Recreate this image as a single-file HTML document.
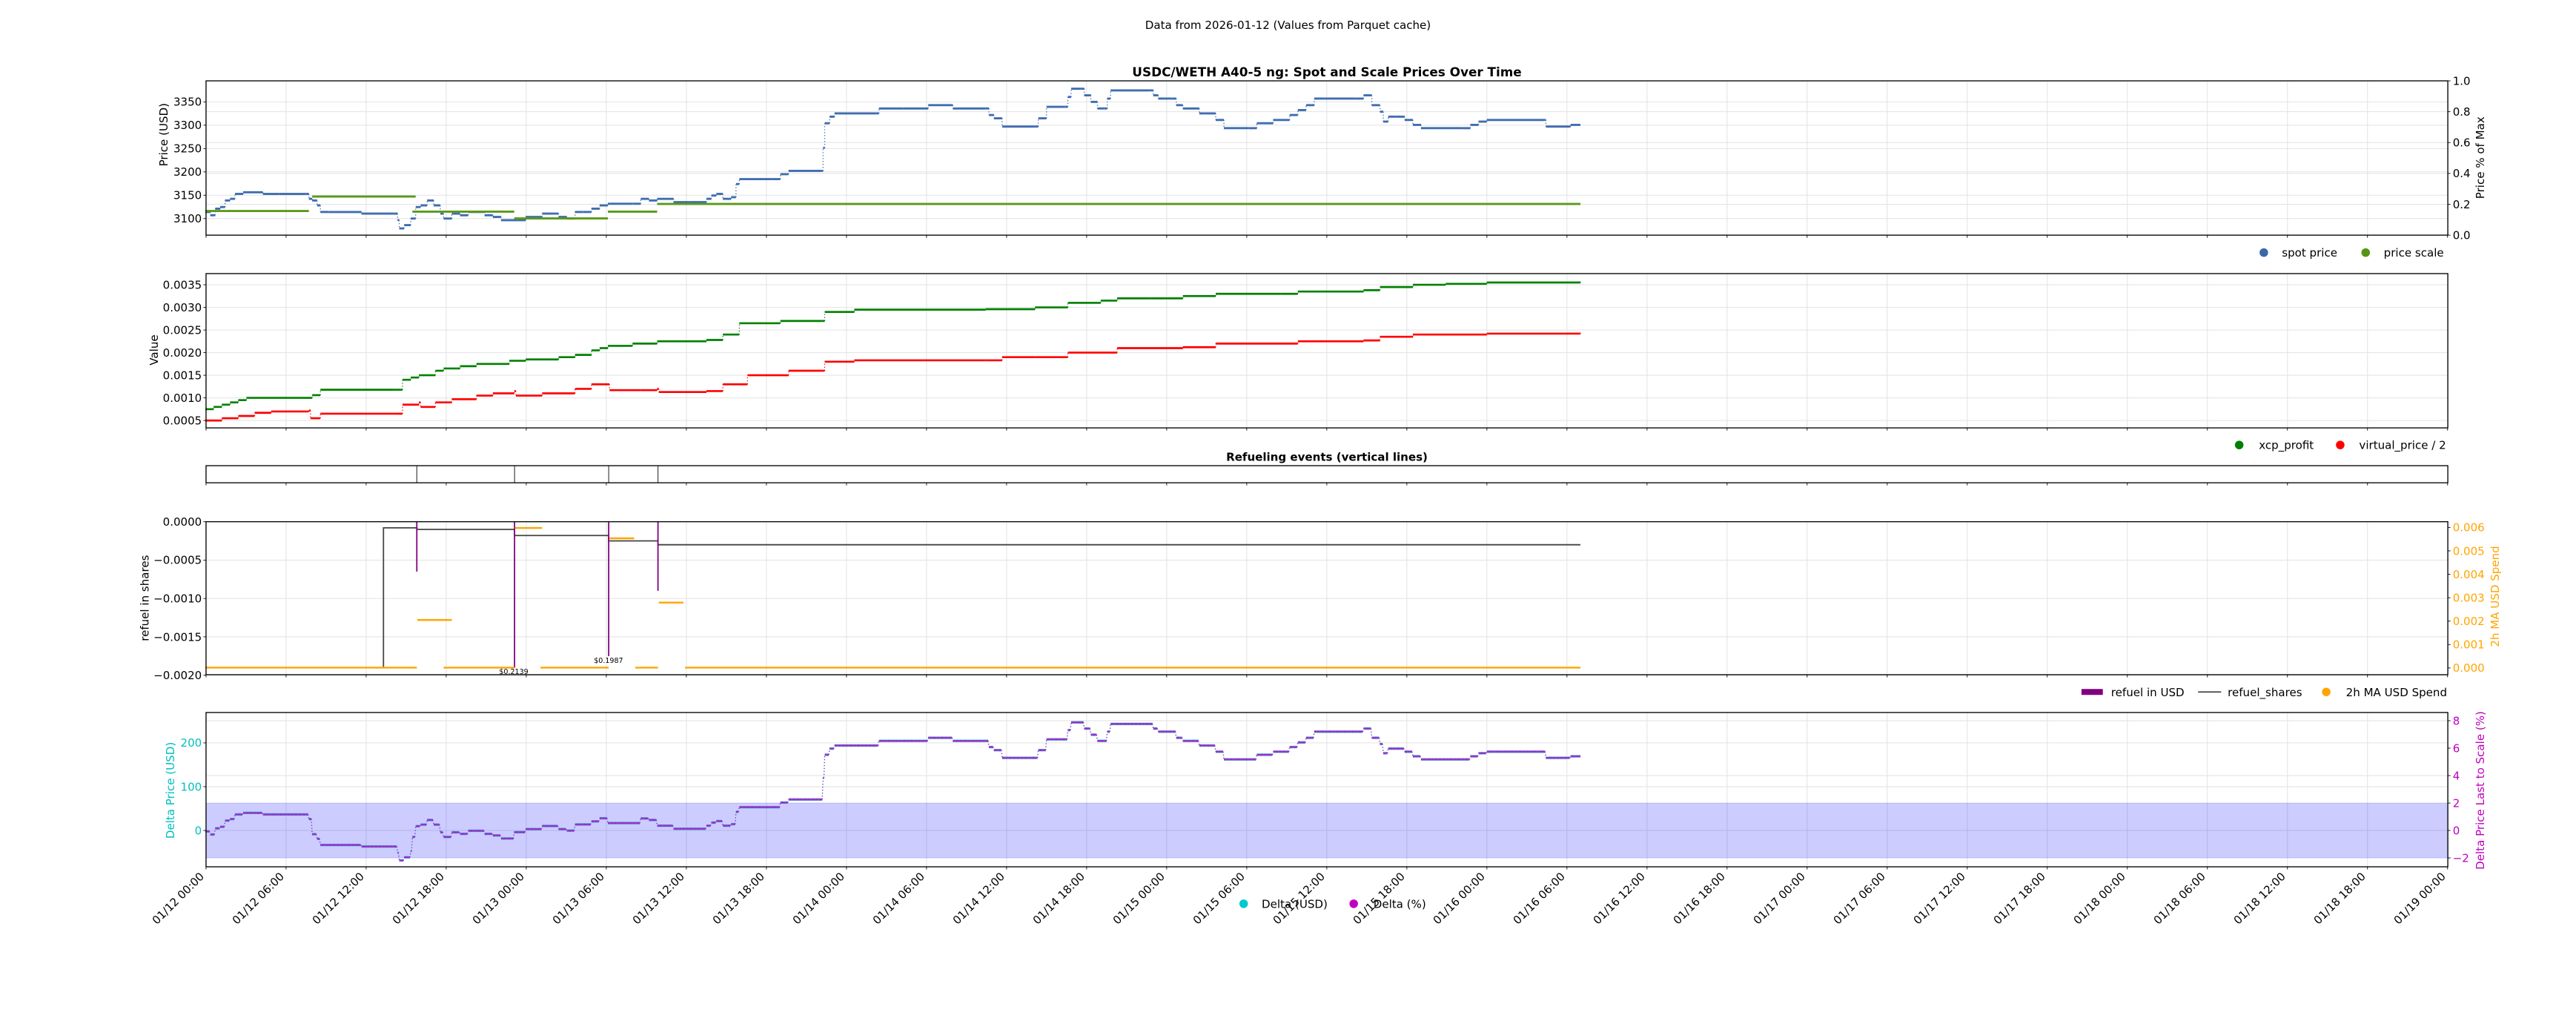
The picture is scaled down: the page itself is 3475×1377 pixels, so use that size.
<!DOCTYPE html>
<html><head><meta charset="utf-8">
<style>
html,body{margin:0;padding:0;background:#fff;}
svg{display:block;}
text{font-family:"DejaVu Sans","Liberation Sans",sans-serif;}
</style></head>
<body>
<svg id="s" xmlns="http://www.w3.org/2000/svg" width="3475" height="1377" viewBox="0 0 1568 621.35">
<rect x="0" y="0" width="1568" height="622" fill="#fff"/>
<g id="grid"></g>
<rect x="125.4" y="488.7" width="1364.6" height="33.4" fill="#0000ff" fill-opacity="0.2" stroke="#0000ff" stroke-opacity="0.15" stroke-width="0.5"/>
<g id="data"></g>
<g id="axes" fill="none" stroke="#000" stroke-width="0.6">
<rect x="125.4" y="49.2" width="1364.6" height="93.9"/>
<rect x="125.4" y="166.5" width="1364.6" height="93.9"/>
<rect x="125.4" y="283.4" width="1364.6" height="10.4"/>
<rect x="125.4" y="317.5" width="1364.6" height="93.1"/>
<rect x="125.4" y="433.6" width="1364.6" height="93.9"/>
</g>
<g id="ticks" stroke="#000" stroke-width="0.4"></g>
<g id="labels" font-size="6.77"></g>
<g font-size="6.8" fill="#000">
<text x="784" y="17.5" text-anchor="middle">Data from 2026-01-12 (Values from Parquet cache)</text>
<text x="807.7" y="46.5" text-anchor="middle" font-weight="bold" font-size="7.6">USDC/WETH A40-5 ng: Spot and Scale Prices Over Time</text>
<text x="807.7" y="280.5" text-anchor="middle" font-weight="bold" font-size="6.8">Refueling events (vertical lines)</text>
<text transform="translate(102,82) rotate(-90)" text-anchor="middle">Price (USD)</text>
<text transform="translate(1512,96) rotate(-90)" text-anchor="middle">Price % of Max</text>
<text transform="translate(96,213) rotate(-90)" text-anchor="middle">Value</text>
<text transform="translate(90.5,364) rotate(-90)" text-anchor="middle">refuel in shares</text>
<text transform="translate(1521,363) rotate(-90)" text-anchor="middle" fill="#ffa500">2h MA USD Spend</text>
<text transform="translate(106,481) rotate(-90)" text-anchor="middle" fill="#00bfbf">Delta Price (USD)</text>
<text transform="translate(1512,481) rotate(-90)" text-anchor="middle" fill="#bf00bf">Delta Price Last to Scale (%)</text>
<text x="312.7" y="410.2" text-anchor="middle" font-size="4.3">$0.2139</text>
<text x="370.4" y="403.3" text-anchor="middle" font-size="4.3">$0.1987</text>
<circle cx="1378" cy="153.7" r="2.6" fill="#3a68a8"/><text x="1389" y="156.2">spot price</text>
<circle cx="1440" cy="153.7" r="2.6" fill="#55950f"/><text x="1451" y="156.2">price scale</text>
<circle cx="1363" cy="270.8" r="2.6" fill="#007f00"/><text x="1375" y="273.3">xcp_profit</text>
<circle cx="1424.5" cy="270.8" r="2.6" fill="#ff0000"/><text x="1436" y="273.3">virtual_price / 2</text>
<rect x="1267" y="419.3" width="13" height="3.6" fill="#800080"/><text x="1285" y="423.6">refuel in USD</text>
<line x1="1338" y1="421.1" x2="1352" y2="421.1" stroke="#444" stroke-width="0.8"/><text x="1356" y="423.6">refuel_shares</text>
<circle cx="1416" cy="421.1" r="2.6" fill="#ffa500"/><text x="1428" y="423.6">2h MA USD Spend</text>
<circle cx="757" cy="550" r="2.6" fill="#00c8d0"/><text x="768" y="552.5">Delta (USD)</text>
<circle cx="824" cy="550" r="2.6" fill="#c000c0"/><text x="836" y="552.5">Delta (%)</text>
</g>
</svg>
<script>
(function(){
var NS="http://www.w3.org/2000/svg";
function el(parent,tag,attrs,txt){var e=document.createElementNS(NS,tag);for(var k in attrs)e.setAttribute(k,attrs[k]);if(txt!==undefined)e.textContent=txt;document.getElementById(parent).appendChild(e);return e;}
var L=125.4,R=1490,DX=48.73;
var P=[[49.2,143.1],[166.5,260.4],[283.4,293.8],[317.5,410.6],[433.6,527.5]];
for(var k=0;k<=28;k++){var x=L+k*DX;
 P.forEach(function(p,i){ if(i!=2) el("grid","line",{x1:x,x2:x,y1:p[0],y2:p[1],stroke:"#e2e2e2","stroke-width":0.45});
  el("ticks","line",{x1:x,x2:x,y1:p[1],y2:p[1]+1.6});});
}
function hgrid(pi,y){el("grid","line",{x1:L,x2:R,y1:y,y2:y,stroke:"#e2e2e2","stroke-width":0.45});}
function ltick(y,t,col){el("ticks","line",{x1:L-1.6,x2:L,y1:y,y2:y});el("labels","text",{x:L-2.6,y:y+2.4,"text-anchor":"end",fill:col||"#000"},t);}
function rtick(y,t,col){el("ticks","line",{x1:R,x2:R+1.6,y1:y,y2:y});el("labels","text",{x:R+3,y:y+2.4,fill:col||"#000"},t);}
for(var v=3100;v<=3350;v+=50){var y=133-(v-3100)*0.284;hgrid(0,y);ltick(y,""+v);}
for(var i=0;i<=5;i++){var y=143.1-i*0.2*93.9;if(i>0&&i<5)hgrid(0,y);rtick(y,(i*0.2).toFixed(1));}
function y2(v){return 255.9-(v-0.0005)*27533;}
for(var i=1;i<=7;i++){var v=i*0.0005;hgrid(1,y2(v));ltick(y2(v),v.toFixed(4));}
function y4(v){return 317.5-v*46720;}
for(var i=0;i<=4;i++){var v=-i*0.0005;hgrid(3,y4(v));ltick(y4(v),(i==0?"":"\u2212")+(i*0.0005).toFixed(4));}
function y4r(v){return 406.5-v*14250;}
for(var i=0;i<=6;i++){rtick(y4r(i*0.001),(i*0.001).toFixed(3),"#ffa500");}
function y5(d){return 505.4-d*0.2665;}
[0,100,200].forEach(function(v){hgrid(4,y5(v));ltick(y5(v),""+v,"#00bfbf");});
for(var p=-2;p<=8;p+=2){var y=505.4-p*8.35;if(p==0||p==4||p==8)hgrid(4,y);rtick(y,(p<0?"\u2212":"")+Math.abs(p),"#bf00bf");}
var days=["12","13","14","15","16","17","18","19"];
for(var k=0;k<=28;k++){var x=L+k*DX;var d=days[Math.floor(k/4)];var h=["00","06","12","18"][k%4];
 el("labels","text",{transform:"translate("+(x-0.8)+",533.8) rotate(-45)","text-anchor":"end"},"01/"+d+" "+h+":00");}
function pl(pts,col,w,extra){var a={points:pts.map(function(p){return p[0]+","+p[1];}).join(" "),fill:"none",stroke:col,"stroke-width":w};for(var k in extra)a[k]=extra[k];return el("data","polyline",a);}
// draw as horizontal segments (markers) with thin connectors
function segs(pts,col,w){
 for(var i=1;i<pts.length;i++){var a=pts[i-1],b=pts[i];
  if(Math.abs(a[1]-b[1])<0.01) el("data","line",{x1:a[0],x2:b[0],y1:a[1],y2:b[1],stroke:col,"stroke-width":w});
  else el("data","line",{x1:a[0],x2:b[0],y1:a[1],y2:b[1],stroke:col,"stroke-width":w*0.45,"stroke-dasharray":"0.6 1.2"});
 }}
var spot=[[125,129],[128,131],[131,127],[134,126],[137,122],[140,121],[143,118],[148,117],[160,118],[170,118],[186,118],[188,121],[190,122],[193,125],[195,129],[200,129],[220,130],[240,130],[242,134],[243,139],[246,137],[250,133],[253,126],[256,125],[260,122],[264,125],[268,130],[270,133],[275,130],[280,131],[285,129],[290,129],[295,131],[300,132],[305,134],[310,134],[315,134],[320,132],[330,130],[340,132],[345,133],[350,129],[355,129],[360,127],[365,125],[370,124],[385,124],[390,121],[395,122],[400,121],[410,123],[420,123],[430,121],[433,119],[436,118],[440,121],[445,120],[448,112],[450,109],[470,109],[475,106],[480,104],[500,104],[501,90],[502,75],[505,71],[508,69],[533,69],[535,66],[550,66],[565,64],[580,66],[600,66],[602,70],[605,72],[610,77],[630,77],[632,72],[637,65],[648,65],[650,59],[652,54],[658,54],[660,58],[664,62],[668,66],[672,66],[674,60],[676,55],[700,55],[702,58],[705,60],[713,60],[716,64],[720,66],[730,69],[740,73],[745,78],[760,78],[765,75],[775,73],[785,70],[790,67],[795,64],[800,60],[825,60],[830,58],[835,64],[840,68],[842,74],[845,71],[850,71],[855,73],[860,76],[865,78],[890,78],[895,76],[900,74],[905,73],[940,73],[941,77],[955,77],[956,76],[962,76]];
var scl=[[125,188,128.4],[190,253,119.6],[251,313,128.8],[313,370,132.9],[370,400,128.8],[400,962,124.1]];
// make spot step-like
function stepXY(a){var o=[];for(var i=0;i<a.length;i++){if(i>0)o.push([a[i][0]-0.01,a[i-1][1]]);o.push(a[i]);}return o;}
segs(stepXY(spot),"#3f6db0",1.3);
scl.forEach(function(s){pl([[s[0],s[2]],[s[1],s[2]]],"#5a9a18",1.3);});
var g=[[125,0.00075],[130,0.0008],[135,0.00085],[140,0.0009],[145,0.00095],[150,0.001],[185,0.001],[190,0.00106],[195,0.00118],[240,0.00118],[245,0.0014],[250,0.00145],[255,0.0015],[265,0.0016],[270,0.00165],[280,0.0017],[290,0.00175],[310,0.00182],[320,0.00185],[340,0.0019],[350,0.00195],[360,0.00205],[365,0.0021],[370,0.00215],[385,0.0022],[400,0.00225],[430,0.00228],[440,0.0024],[450,0.00265],[475,0.0027],[500,0.0027],[502,0.0029],[520,0.00295],[600,0.00296],[630,0.003],[650,0.0031],[670,0.00315],[680,0.0032],[700,0.0032],[720,0.00325],[740,0.0033],[780,0.0033],[790,0.00335],[830,0.00338],[840,0.00345],[860,0.0035],[880,0.00352],[905,0.00355],[962,0.00358]];
var r=[[125,0.0005],[135,0.00055],[145,0.0006],[155,0.00067],[165,0.0007],[188,0.00072],[189,0.00055],[195,0.00065],[240,0.00065],[245,0.00085],[255,0.0009],[256,0.0008],[265,0.0009],[275,0.00097],[290,0.00105],[300,0.0011],[313,0.00115],[314,0.00105],[330,0.0011],[350,0.0012],[360,0.0013],[370,0.0013],[371,0.00117],[390,0.00117],[400,0.0012],[401,0.00113],[430,0.00115],[440,0.0013],[455,0.0015],[480,0.0016],[500,0.0016],[502,0.0018],[520,0.00183],[600,0.00183],[610,0.0019],[630,0.0019],[650,0.002],[680,0.0021],[720,0.00212],[740,0.0022],[790,0.00225],[830,0.00227],[840,0.00235],[860,0.0024],[905,0.00242],[962,0.00245]];
function stepify(a,f){var o=[];for(var i=0;i<a.length;i++){if(i>0)o.push([a[i][0]-0.01,f(a[i-1][1])]);o.push([a[i][0],f(a[i][1])]);}return o;}
segs(stepify(g,y2),"#008000",1.2);
segs(stepify(r,y2),"#ff0000",1.2);
[253.7,313.2,370.5,400.5].forEach(function(x){el("data","line",{x1:x,x2:x,y1:283.4,y2:293.8,stroke:"#333","stroke-width":0.5});});
var sh=[[125,-0.0019],[233.4,-0.0019],[233.4,-0.00008],[253.7,-0.00008],[253.7,-0.0001],[313.2,-0.0001],[313.2,-0.00018],[370.5,-0.00018],[370.5,-0.00025],[400.5,-0.00025],[400.5,-0.0003],[962,-0.0003]];
pl(sh.map(function(p){return [p[0],y4(p[1])];}),"#444",0.8);
[[253.7,-0.00065],[313.2,-0.0019],[370.5,-0.00175],[400.5,-0.0009]].forEach(function(s){el("data","line",{x1:s[0],x2:s[0],y1:317.5,y2:y4(s[1]),stroke:"#800080","stroke-width":0.8});});
[[125,253.7,406.3],[270,313.2,406.3],[329,370.5,406.3],[386.7,400.5,406.3],[417,962,406.3],[254,275,377.3],[313.5,330,321.3],[371,386,327.6],[401,416,366.7]].forEach(function(s){el("data","line",{x1:s[0],x2:s[1],y1:s[2],y2:s[2],stroke:"#ffa500","stroke-width":1.1});});
function interp(a,x){for(var i=1;i<a.length;i++){if(x<=a[i][0]){var t=(x-a[i-1][0])/((a[i][0]-a[i-1][0])||1);return a[i-1][1]+t*(a[i][1]-a[i-1][1]);}}return a[a.length-1][1];}
function sc(x){for(var i=scl.length-1;i>=0;i--){if(x>=scl[i][0])return scl[i][2];}return scl[0][2];}
var st=stepXY(spot);
var dp=[];for(var x=125;x<=962;x+=0.5){var d=(sc(x)-interp(st,x))/0.284;dp.push([x,y5(d)]);}
segs(dp,"#00c8d0",1.5);
segs(dp,"#b020c8",1.1);
})();
</script>
</body></html>
